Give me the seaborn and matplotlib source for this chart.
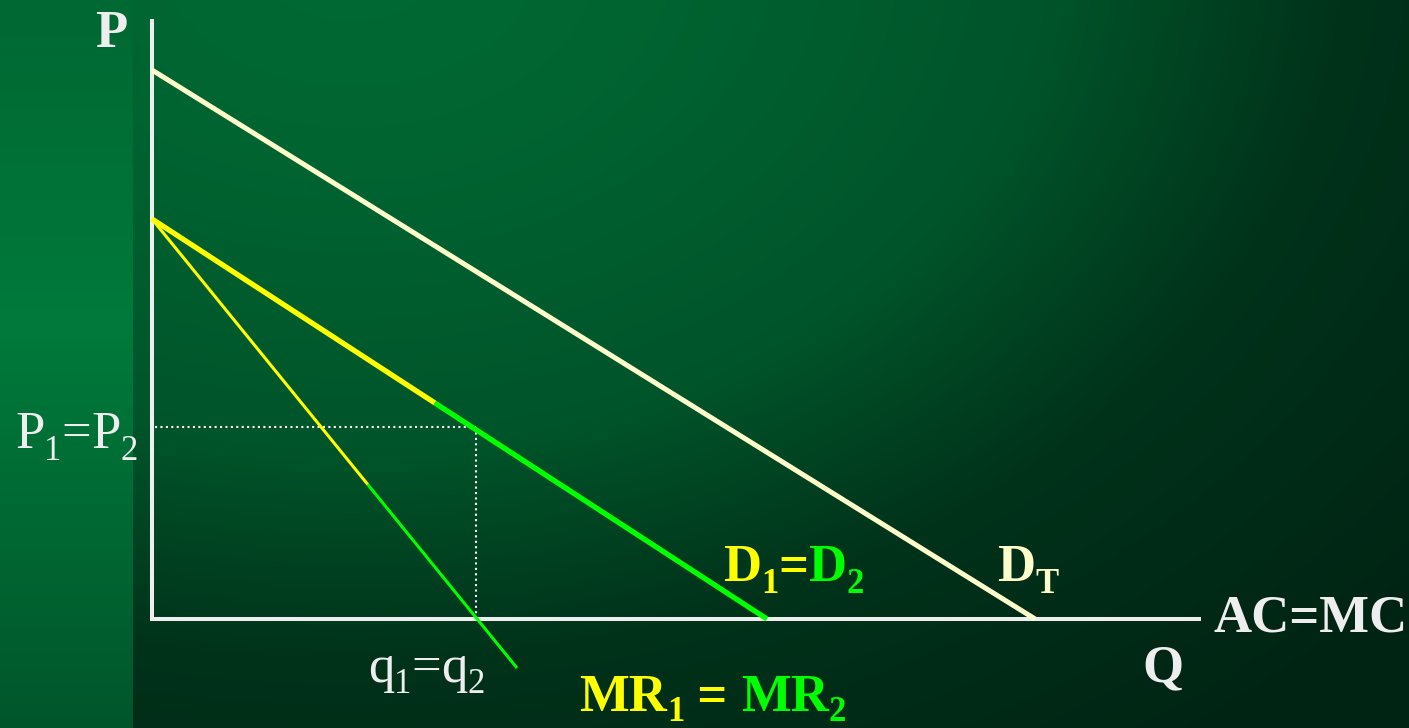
import numpy as np
import pandas as pd
import matplotlib
matplotlib.use("Agg")
import matplotlib.pyplot as plt
from matplotlib.transforms import Affine2D
import seaborn as sns

# ---- curve data (Q, P) ----
axis_p_top = 15.0
axis_q_end = 17.06

dt_q = [0.0, 14.36]
dt_p = [13.725, 0.0]

d_yellow_q = [0.0, 4.6]
d_yellow_p = [10.0, 5.4]
d_green_q = [4.6, 10.0]
d_green_p = [5.4, 0.0]

mr_yellow_q = [0.0, 3.51]
mr_yellow_p = [10.0, 3.36]
mr_green_q = [3.51, 5.935]
mr_green_p = [3.36, -1.225]

q_eq = 5.27
p_eq = 4.8

LIGHT = "#EEEEEE"
YELLOW = "#FFFF00"
GREEN = "#00FF00"
CREAM = "#FFFFCC"

W, H = 1409, 728
fig = plt.figure(figsize=(W / 100, H / 100), dpi=100)
ax = fig.add_axes([0, 0, 1, 1])
xlim = (-152 / 61.5, (W - 152) / 61.5)
ylim = (-(H - 619) / 40, 619 / 40)
ax.set_xlim(*xlim)
ax.set_ylim(*ylim)
ax.axis("off")

# ---- background: green glow from the upper left fading to dark, lighter left strip ----
yy, xx = np.mgrid[0:H, 0:W]
dist = np.hypot(xx - 350.0, (yy + 50.0) * 1.4)
g = np.interp(dist, [0, 300, 700, 1000, 1400], [106, 100, 84, 50, 36])
strip = xx < 133
v = yy / H
g[strip] = np.interp(v[strip], [0, 0.45, 1], [104, 122, 86])
bg = np.stack([np.zeros_like(g), g, 0.46 * g + 3], axis=-1)
ax.imshow(bg.astype(np.uint8), extent=[xlim[0], xlim[1], ylim[0], ylim[1]],
          aspect="auto", origin="upper", zorder=0)

# ---- axes lines ----
ax.plot([0, 0], [-0.06, axis_p_top], color=LIGHT, lw=2.9, solid_capstyle="butt", zorder=2)
ax.plot([-0.04, axis_q_end], [0, 0], color=LIGHT, lw=2.9, solid_capstyle="butt", zorder=2)

# ---- guide lines to the equilibrium ----
ax.plot([0.05, q_eq], [p_eq, p_eq], color="white", lw=1.5, ls=(0, (1, 1.6)), zorder=2)
ax.plot([q_eq, q_eq], [p_eq, 0], color="white", lw=1.5, ls=(0, (1, 1.6)), zorder=2)

# ---- curves ----
def seg(q, p, color, lw):
    df = pd.DataFrame({"Q": q, "P": p})
    sns.lineplot(data=df, x="Q", y="P", ax=ax, color=color, lw=lw,
                 estimator=None, sort=False, zorder=3)
    ax.lines[-1].set_solid_capstyle("butt")

seg(dt_q, dt_p, CREAM, 3.6)
seg(d_yellow_q, d_yellow_p, YELLOW, 3.8)
seg(d_green_q, d_green_p, GREEN, 3.8)
seg(mr_yellow_q, mr_yellow_p, YELLOW, 2.2)
seg(mr_green_q, mr_green_p, GREEN, 2.2)
ax.set_xlim(*xlim)
ax.set_ylim(*ylim)

# ---- labels ----
plt.rcParams["font.family"] = ["Liberation Serif", "DejaVu Serif"]
pix = Affine2D().scale(1, -1).translate(0, H)
renderer = fig.canvas.get_renderer()
BIG, SUB = 38, 25


def label(x, y, parts):
    for s, color, size, weight, dy in parts:
        t = fig.text(x, y + dy, s, transform=pix, color=color, fontsize=size,
                     fontweight=weight, family=["Liberation Serif", "DejaVu Serif"],
                     ha="left", va="baseline", zorder=5)
        x = t.get_window_extent(renderer).x1


label(95, 47, [("P", LIGHT, BIG, "bold", 0)])
label(15, 448, [("P", LIGHT, BIG, "normal", 0), ("1", LIGHT, SUB, "normal", 12),
                ("=", LIGHT, BIG, "normal", 0), ("P", LIGHT, BIG, "normal", 0),
                ("2", LIGHT, SUB, "normal", 12)])
label(368, 682, [("q", LIGHT, BIG, "normal", 0), ("1", LIGHT, SUB, "normal", 11),
                 ("=", LIGHT, BIG, "normal", 0), ("q", LIGHT, BIG, "normal", 0),
                 ("2", LIGHT, SUB, "normal", 11)])
label(723, 581, [("D", YELLOW, BIG, "bold", 0), ("1", YELLOW, SUB, "bold", 12),
                 ("=", YELLOW, BIG, "bold", 0), ("D", GREEN, BIG, "bold", 0),
                 ("2", GREEN, SUB, "bold", 12)])
label(997, 581, [("D", CREAM, BIG, "bold", 0), ("T", CREAM, SUB, "bold", 12)])
label(1213, 631, [("AC=MC", LIGHT, BIG, "bold", 0)])
label(1142, 681, [("Q", LIGHT, BIG, "bold", 0)])
label(579, 711, [("MR", YELLOW, BIG, "bold", 0), ("1", YELLOW, SUB, "bold", 10),
                 (" = ", YELLOW, BIG, "bold", 0), ("MR", GREEN, BIG, "bold", 0),
                 ("2", GREEN, SUB, "bold", 10)])

fig.savefig("out.png", dpi=100)
